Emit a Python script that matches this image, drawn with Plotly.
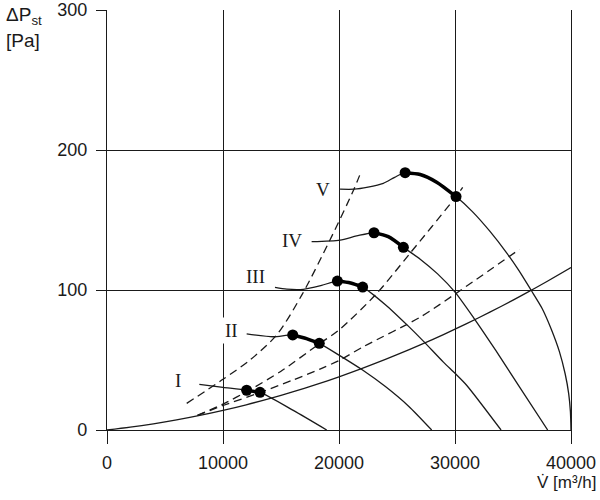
import plotly.graph_objects as go

# ---------------- data ----------------
# system characteristic (solid)
sys_x = [0, 2000, 4000, 6000, 8000, 10000, 12000, 14000, 16000, 18000, 20000,
         22000, 24000, 26000, 28000, 30000, 32000, 34000, 36000, 38000, 40000]
sys_y = [0, 2.0, 4.4, 7.2, 10.4, 14, 18, 22.4, 27.2, 32.4, 38,
         44, 50.4, 57.2, 64.4, 72, 80, 88.4, 97.2, 106.4, 116]

# dashed curves
dashA_x = [6870, 10000, 12330, 14630, 16800, 19220, 21290, 21950]
dashA_y = [19, 36.2, 50, 67.9, 96.5, 135.7, 172, 185.5]
dashB_x = [7800, 10000, 12300, 15000, 18360, 20000, 23250, 26120, 30090, 30660]
dashB_y = [10.5, 18.5, 28.6, 42, 61.9, 71.4, 97.5, 126.2, 166.7, 173.3]
dashC_x = [7800, 10000, 13190, 16000, 18360, 20090, 22100, 26980, 30090, 35550]
dashC_y = [10.5, 17.5, 26.7, 35.6, 43.5, 50, 59.5, 80.5, 97.6, 129]

# fan curves I..V (thin line incl. label leader)
fan1_x = [7960, 10000, 12040, 13190, 16060, 18940]
fan1_y = [32.6, 30.5, 28.4, 26.9, 14, 0]
fan2_x = [12040, 14340, 16010, 17200, 18300, 20000, 22000, 24000, 26000, 27990]
fan2_y = [68.6, 66.6, 67.9, 65.3, 61.9, 53.5, 43, 31, 17, 0]
fan3_x = [14480, 15500, 16920, 18500, 19860, 21000, 22040, 24000, 26000, 27270, 29000, 30000, 31000, 33970]
fan3_y = [101.9, 100.6, 100.5, 103.3, 106.4, 105, 102.1, 89.5, 74, 63.5, 48.5, 40.5, 32, 0]
fan4_x = [17640, 20090, 21520, 23020, 24250, 25550, 27000, 28500, 30000, 31580, 33500, 35500, 37990]
fan4_y = [134.5, 135.7, 138.6, 140.9, 138.1, 130.5, 122, 111.5, 98.5, 80.5, 57, 31.5, 0]
fan5_x = [20090, 21290, 22500, 23820, 24800, 25700, 27000, 28420, 30090, 31500, 33000, 34500,
          35500, 36550, 37500, 38300, 39000, 39500, 39800, 39950, 40000]
fan5_y = [172, 172, 173.5, 176.2, 180.5, 183.8, 182.5, 177, 166.7, 156, 142, 126,
          114, 100, 87, 72, 56, 40, 26, 13, 0]

# thick working ranges
thick1_x = [12040, 13190]
thick1_y = [28.4, 26.9]
thick2_x = [16010, 17200, 18300]
thick2_y = [67.9, 65.3, 61.9]
thick3_x = [19860, 21000, 22040]
thick3_y = [106.4, 105, 102.1]
thick4_x = [23020, 24250, 25550]
thick4_y = [140.9, 138.1, 130.5]
thick5_x = [25700, 27000, 28420, 30090]
thick5_y = [183.8, 182.5, 177, 166.7]

# operating-range end points
dot_x = [12040, 13190, 16010, 18300, 19860, 22040, 23020, 25550, 25700, 30090]
dot_y = [28.4, 26.9, 67.9, 61.9, 106.4, 102.1, 140.9, 130.5, 183.8, 166.7]

# curve labels
lab_text = ["I", "II", "III", "IV", "V"]
lab_x = [6150, 10750, 12840, 15920, 18590]
lab_y = [35.7, 71.4, 110, 135.2, 172]

x_ticks = [0, 10000, 20000, 30000, 40000]
y_ticks = [0, 100, 200, 300]

# ---------------- figure ----------------
INK = "#1a1a1a"
fig = go.Figure()

fig.add_trace(go.Scatter(x=sys_x, y=sys_y, mode="lines",
                         line=dict(color=INK, width=1.3, shape="spline", smoothing=0.8)))
for dx, dy in [(dashA_x, dashA_y), (dashB_x, dashB_y), (dashC_x, dashC_y)]:
    fig.add_trace(go.Scatter(x=dx, y=dy, mode="lines",
                             line=dict(color=INK, width=1.3, dash="8px,5px",
                                       shape="spline", smoothing=0.8)))
for fx, fy in [(fan1_x, fan1_y), (fan2_x, fan2_y), (fan3_x, fan3_y),
               (fan4_x, fan4_y), (fan5_x, fan5_y)]:
    fig.add_trace(go.Scatter(x=fx, y=fy, mode="lines",
                             line=dict(color=INK, width=1.3, shape="spline", smoothing=0.7)))
for tx, ty in [(thick1_x, thick1_y), (thick2_x, thick2_y), (thick3_x, thick3_y),
               (thick4_x, thick4_y), (thick5_x, thick5_y)]:
    fig.add_trace(go.Scatter(x=tx, y=ty, mode="lines",
                             line=dict(color="black", width=3.5, shape="spline", smoothing=0.7)))
fig.add_trace(go.Scatter(x=dot_x, y=dot_y, mode="markers",
                         marker=dict(color="black", size=11)))

for t, x, y in zip(lab_text, lab_x, lab_y):
    fig.add_annotation(x=x, y=y, text=t, showarrow=False, xanchor="center", yanchor="middle",
                       font=dict(family="Liberation Serif", size=19, color=INK),
                       bgcolor="white", borderpad=2)

fig.add_annotation(xref="paper", yref="paper", x=-0.222, y=0.985, xanchor="left", yanchor="middle",
                   text="ΔP<sub>st</sub>", showarrow=False,
                   font=dict(family="Liberation Sans", size=19, color=INK))
fig.add_annotation(xref="paper", yref="paper", x=-0.222, y=0.928, xanchor="left", yanchor="middle",
                   text="[Pa]", showarrow=False,
                   font=dict(family="Liberation Sans", size=19, color=INK))
fig.add_annotation(xref="paper", yref="paper", x=1.06, y=-0.126, xanchor="right", yanchor="middle",
                   text="V\u0307 [m³/h]", showarrow=False,
                   font=dict(family="Liberation Sans", size=17, color=INK))

fig.update_layout(
    width=600, height=500, showlegend=False,
    margin=dict(l=107, r=29, t=10, b=70, autoexpand=False),
    plot_bgcolor="white", paper_bgcolor="white",
    font=dict(family="Liberation Sans", size=18, color=INK),
)
fig.update_xaxes(range=[0, 40000], tickvals=x_ticks, ticktext=[str(v) for v in x_ticks],
                 showgrid=True, gridcolor=INK, gridwidth=1.3, automargin=False,
                 showline=True, linecolor=INK, linewidth=1.3,
                 ticks="outside", ticklen=13, tickwidth=1.3, tickcolor=INK,
                 ticklabelstandoff=3, zeroline=False)
fig.update_yaxes(range=[0, 300], tickvals=y_ticks, ticktext=[str(v) for v in y_ticks],
                 showgrid=True, gridcolor=INK, gridwidth=1.3, automargin=False,
                 showline=True, linecolor=INK, linewidth=1.3, mirror=True,
                 ticks="outside", ticklen=10, tickwidth=1.3, tickcolor=INK,
                 ticklabelstandoff=5, zeroline=False)

fig.write_html("out.html")
